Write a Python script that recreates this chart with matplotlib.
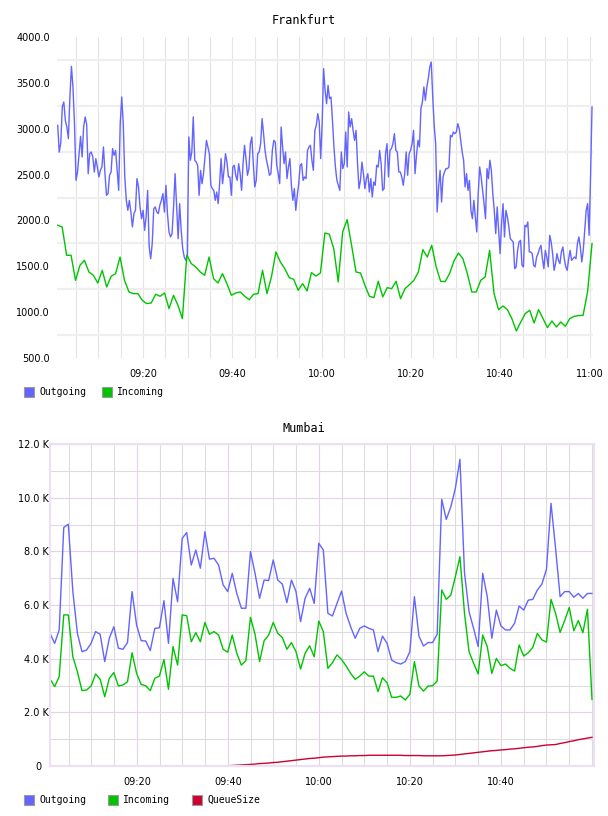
import numpy as np
import matplotlib.pyplot as plt
from matplotlib.patches import Rectangle

W, H = 608, 816

# ---- Frankfurt (values), sampled ~20 s for outgoing, 1 min for incoming
fra_out = [
    3037, 2746, 2844, 3237, 3291, 3091, 3019, 2892, 3346, 3680,
    3455, 3055, 2437, 2528, 2728, 2917, 2692, 3019, 3128, 3048,
    2510, 2728, 2746, 2692, 2528, 2674, 2583, 2474, 2546, 2583,
    2801, 2510, 2274, 2292, 2492, 2528, 2783, 2710, 2764, 2546,
    2328, 3055, 3346, 3055, 2474, 2219, 2110, 2219, 2092, 1929,
    2074, 2110, 2456, 2365, 2147, 2019, 2110, 1892, 2038, 2328,
    1711, 1583, 1747, 2128, 2147, 2092, 2074, 2165, 2219, 2292,
    2092, 2383, 2074, 1874, 1820, 1856, 2147, 2510, 2165, 1801,
    2183, 1892, 1692, 1601, 1565, 1620, 2910, 2656,
    2746, 3128, 2656, 2637, 2601, 2274, 2546, 2401, 2510,
    2692, 2873, 2801, 2728, 2383, 2347, 2328, 2219, 2310, 2183,
    2401, 2674, 2401, 2546, 2728, 2637, 2474, 2474, 2274, 2583,
    2601, 2492, 2437, 2619, 2510, 2328, 2619, 2819, 2674, 2492,
    2565, 2837, 2910, 2619, 2365, 2437, 2728, 2746, 2837, 3110,
    2946, 2764, 2656, 2583, 2492, 2510, 2764, 2873, 2855, 2601,
    2510, 2401, 3019, 2801, 2619, 2746, 2456, 2583, 2674, 2383,
    2219, 2347, 2110, 2274, 2401, 2601, 2619, 2437, 2474, 2456,
    2764, 2801, 2819, 2656, 2546, 2982, 3037, 3164, 3073, 2674,
    3055, 3655,
    3419, 3273, 3473, 3328, 3346, 3091, 2801, 2583, 2437, 2383,
    2328, 2746, 2565, 2619, 2964, 2583, 3182, 3019, 3110, 2982,
    2873, 2982, 2619, 2347, 2437, 2637, 2510, 2347, 2456, 2510,
    2310, 2456, 2256, 2419, 2383, 2601, 2583, 2764, 2619, 2328,
    2347, 2728, 2837, 2474, 2764, 2783, 2837, 2946, 2764, 2746,
    2528, 2528, 2474, 2383, 2510, 2746, 2492, 2728, 2764, 2837,
    2982, 2510, 2710, 2873, 2801, 3219, 3291, 3455, 3310, 3455,
    3546, 3673, 3727, 3346, 3037, 2837, 2092, 2365, 2546, 2201,
    2474, 2528, 2565, 2565, 2583, 2928, 2910, 2964, 2946, 2964,
    3055,
    3001, 2873, 2746, 2656, 2365, 2510, 2328, 2437, 2110, 2019,
    2219, 2038, 1874, 2292, 2583, 2474, 2328, 2183, 2019, 2565,
    2456, 2656, 2546, 2292, 2110, 1856, 2147, 1892, 1638, 1965,
    2183, 1820, 2110, 2038, 1929, 1801, 1783, 1765, 1474, 1493,
    1674, 1765, 1783, 1511, 1493, 1947, 1929, 1983, 1656, 1656,
    1638, 1511, 1493, 1601, 1638, 1692, 1729, 1583, 1474, 1674,
    1601, 1493, 1838, 1765, 1638, 1456, 1529, 1638, 1565, 1529,
    1656, 1711, 1583, 1493, 1456, 1583, 1674, 1565, 1583, 1601,
    1583, 1747, 1820, 1711, 1547, 1674, 1892, 2110, 2183, 1838,
    2474, 3237,
]
# samples per half-hour block and the minute of each block's last sample
fra_out_counts = [88, 91, 91, 92]
fra_out_ends = [30.6, 60.45, 90.5, 120.56]

fra_in = [
    1947, 1929, 1620, 1620, 1347, 1511, 1565, 1438, 1402, 1318,
    1456, 1274, 1391, 1420, 1601, 1347, 1220, 1202, 1202, 1129,
    1093, 1100, 1195, 1173, 1209, 1038, 1184, 1075, 929, 1620, 1529,
    1493, 1438, 1402, 1601, 1365, 1318, 1420, 1311, 1184, 1209,
    1220, 1173, 1136, 1195, 1202, 1456, 1202, 1384, 1656, 1547,
    1474, 1376, 1358, 1238, 1311, 1231, 1431, 1394, 1427, 1863,
    1849, 1692, 1329, 1874, 2009, 1729, 1438, 1427, 1293, 1173,
    1158, 1336, 1166, 1267, 1256, 1336, 1147, 1256, 1300, 1347,
    1438, 1682, 1601, 1729, 1493, 1336, 1333, 1420, 1558, 1645,
    1583, 1420, 1220, 1220, 1347, 1384, 1674, 1202, 1027, 1067,
    1027, 929, 795, 893, 984, 1020, 882, 1027, 929, 831,
    904, 838, 893, 846, 929, 955, 962, 966, 1220, 1747,
]

# ---- Mumbai (thousands), one sample per minute
mum_out = [
    4.94, 4.57, 5.07, 8.89, 9.01, 6.50, 4.94, 4.26, 4.32, 4.57,
    5.01, 4.91, 3.89, 4.76, 5.19, 4.39, 4.35, 4.60, 6.50, 5.25,
    4.67, 4.66, 4.30, 5.13, 5.15, 6.16, 4.57, 6.99, 6.12, 8.48,
    8.70, 7.49, 8.05, 7.37, 8.73, 7.71, 7.74, 7.49, 6.75, 6.50,
    7.18, 6.43, 5.88, 5.88, 7.99, 7.18, 6.25, 6.93, 6.91, 7.68,
    6.93, 6.78, 6.09, 6.93, 6.50, 5.38, 6.25, 6.62, 6.06, 8.30,
    8.05, 5.69, 5.59, 6.06, 6.52, 5.69, 5.19, 4.76, 5.13, 5.22,
    5.13, 5.07, 4.26, 4.84, 4.57, 3.95, 3.85, 3.80, 3.89, 4.26,
    6.31, 4.84, 4.47, 4.60, 4.60, 4.91, 9.94, 9.19, 9.66, 10.35,
    11.43, 7.20, 5.75, 5.13, 4.45, 7.18, 6.31, 4.76, 5.81, 5.22,
    5.07, 5.07, 5.32, 5.96, 5.81, 6.18, 6.21, 6.56, 6.78, 7.33,
    9.79, 8.11, 6.31, 6.50, 6.50, 6.29, 6.43, 6.25, 6.43, 6.43,
]
mum_in = [
    3.24, 2.96, 3.33, 5.63, 5.63, 4.07, 3.51, 2.81, 2.83, 2.98,
    3.43, 3.23, 2.58, 3.27, 3.48, 2.98, 3.02, 3.14, 4.22, 3.45,
    3.04, 2.99, 2.81, 3.27, 3.35, 3.97, 2.86, 4.45, 3.76, 5.63,
    5.60, 4.63, 4.97, 4.63, 5.35, 4.91, 5.01, 4.88, 4.35, 4.24,
    4.88, 4.20, 3.76, 3.93, 5.54, 4.91, 3.89, 4.67, 4.88, 5.35,
    4.94, 4.79, 4.35, 4.60, 4.26, 3.61, 4.20, 4.48, 4.07, 5.40,
    5.01, 3.64, 3.85, 4.14, 3.97, 3.73, 3.45, 3.23, 3.35, 3.51,
    3.35, 3.35, 2.77, 3.29, 3.10, 2.56, 2.56, 2.61, 2.46, 2.67,
    3.89, 2.98, 2.79, 2.98, 2.99, 3.17, 6.56, 6.21, 6.37, 7.06,
    7.80, 5.69, 4.26, 3.83, 3.43, 4.88, 4.45, 3.45, 4.01, 3.74,
    3.80, 3.64, 3.54, 4.51, 4.10, 4.22, 4.42, 4.94, 4.70, 4.62,
    6.21, 5.69, 4.98, 5.42, 5.91, 5.04, 5.42, 4.97, 5.84, 2.48,
]
mum_queue = [0.0] * 38 + [
    0.00, 0.01, 0.02, 0.03, 0.04, 0.05, 0.06, 0.07, 0.09, 0.10,
    0.11, 0.13, 0.14, 0.16, 0.18, 0.20, 0.22, 0.24, 0.26, 0.28,
    0.29, 0.31, 0.33, 0.34, 0.35, 0.36, 0.37, 0.37, 0.38, 0.38,
    0.39, 0.39, 0.40, 0.40, 0.40, 0.40, 0.40, 0.40, 0.40, 0.40,
    0.39, 0.39, 0.39, 0.39, 0.38, 0.38, 0.38, 0.38, 0.38, 0.39,
    0.40, 0.41, 0.43, 0.45, 0.47, 0.49, 0.51, 0.53, 0.55, 0.57,
    0.58, 0.60, 0.61, 0.63, 0.64, 0.66, 0.68, 0.70, 0.71, 0.73,
    0.76, 0.78, 0.79, 0.80, 0.84, 0.87, 0.91, 0.94, 0.98, 1.01,
    1.04, 1.07,
]

# sample times, minutes after 09:00
parts = [np.linspace(0.9, fra_out_ends[0], fra_out_counts[0])]
for i in range(1, len(fra_out_counts)):
    parts.append(np.linspace(fra_out_ends[i - 1], fra_out_ends[i], fra_out_counts[i] + 1)[1:])
fra_out_t = np.concatenate(parts)
fra_in_t = np.linspace(0.9, 120.56, len(fra_in))
mum_t = np.linspace(0.9, 120.0, len(mum_out))

top_ticks = [20, 40, 60, 80, 100, 120]
top_labels = ['09:20', '09:40', '10:00', '10:20', '10:40', '11:00']
bot_ticks = [20, 40, 60, 80, 100]
bot_labels = ['09:20', '09:40', '10:00', '10:20', '10:40']

BLUE = '#6464ff'
GREEN = '#00c400'
RED = '#cc0033'
MONO = 'DejaVu Sans Mono'

fig = plt.figure(figsize=(W / 100, H / 100), dpi=100)


def box(x0, y0, x1, y1):
    return [x0 / W, 1 - y1 / H, (x1 - x0) / W, (y1 - y0) / H]


# ---------------- Frankfurt
ax1 = fig.add_axes(box(57, 37, 593, 358))
ax1.plot(fra_out_t, fra_out, color=BLUE, lw=1.0)
ax1.plot(fra_in_t, fra_in, color=GREEN, lw=1.0)
ax1.set_xlim(0.74, 120.78)
ax1.set_ylim(500, 4000)
ax1.set_xticks(top_ticks)
ax1.set_xticklabels(top_labels)
ax1.set_xticks(np.arange(5, 121, 5), minor=True)
ax1.set_yticks(np.arange(500, 4001, 500))
ax1.set_yticklabels([f'{v:.1f}' for v in np.arange(500, 4001, 500)])
ax1.set_yticks(np.arange(750, 4000, 500), minor=True)
ax1.grid(which='both', axis='x', color='#e4e4e4', lw=0.8)
ax1.grid(which='minor', axis='y', color='#efefef', lw=1.6)
ax1.set_axisbelow(True)
for s in ax1.spines.values():
    s.set_visible(False)
ax1.tick_params(which='both', length=0, labelsize=7)
ax1.tick_params(axis='x', pad=8)
ax1.tick_params(axis='y', pad=5)

# ---------------- Mumbai
ax2 = fig.add_axes(box(50, 444, 594, 766))
ax2.plot(mum_t, mum_out, color=BLUE, lw=1.0)
ax2.plot(mum_t, mum_in, color=GREEN, lw=1.0)
ax2.plot(mum_t, mum_queue, color=RED, lw=1.0)
ax2.set_xlim(0.88, 120.44)
ax2.set_ylim(0, 12)
ax2.set_xticks(bot_ticks)
ax2.set_xticklabels(bot_labels)
ax2.set_xticks(np.arange(5, 121, 5), minor=True)
ax2.set_yticks(np.arange(0, 13, 2))
ax2.set_yticklabels(['0  '] + [f'{v:.1f} K' for v in np.arange(2, 13, 2)])
ax2.set_yticks(np.arange(1, 12, 2), minor=True)
ax2.grid(which='minor', color='#dcdcdc', lw=0.8)
ax2.grid(which='major', color='#e6d2e8', lw=0.8)
ax2.set_axisbelow(True)
for s in ax2.spines.values():
    s.set_color('#ece0f2')
    s.set_linewidth(1.6)
ax2.tick_params(which='both', length=0, labelsize=7)
ax2.tick_params(axis='x', pad=8)
ax2.tick_params(axis='y', pad=1)

# ---------------- titles
fig.text(0.5, 1 - 20 / H, 'Frankfurt', ha='center', va='center', family=MONO, size=8.5)
fig.text(0.5, 1 - 429 / H, 'Mumbai', ha='center', va='center', family=MONO, size=8.5)


# ---------------- legends
def legend_item(x, y, color, label):
    fig.add_artist(Rectangle((x / W, 1 - (y + 5) / H), 10 / W, 10 / H,
                             transform=fig.transFigure, facecolor=color,
                             edgecolor='#9a9a9a', lw=0.8))
    fig.text((x + 15) / W, 1 - y / H, label, ha='left', va='center',
             family=MONO, size=7)


legend_item(24, 392, BLUE, 'Outgoing')
legend_item(102, 392, GREEN, 'Incoming')
legend_item(24, 800, BLUE, 'Outgoing')
legend_item(108, 800, GREEN, 'Incoming')
legend_item(192, 800, RED, 'QueueSize')

fig.savefig('out.png', dpi=100)
